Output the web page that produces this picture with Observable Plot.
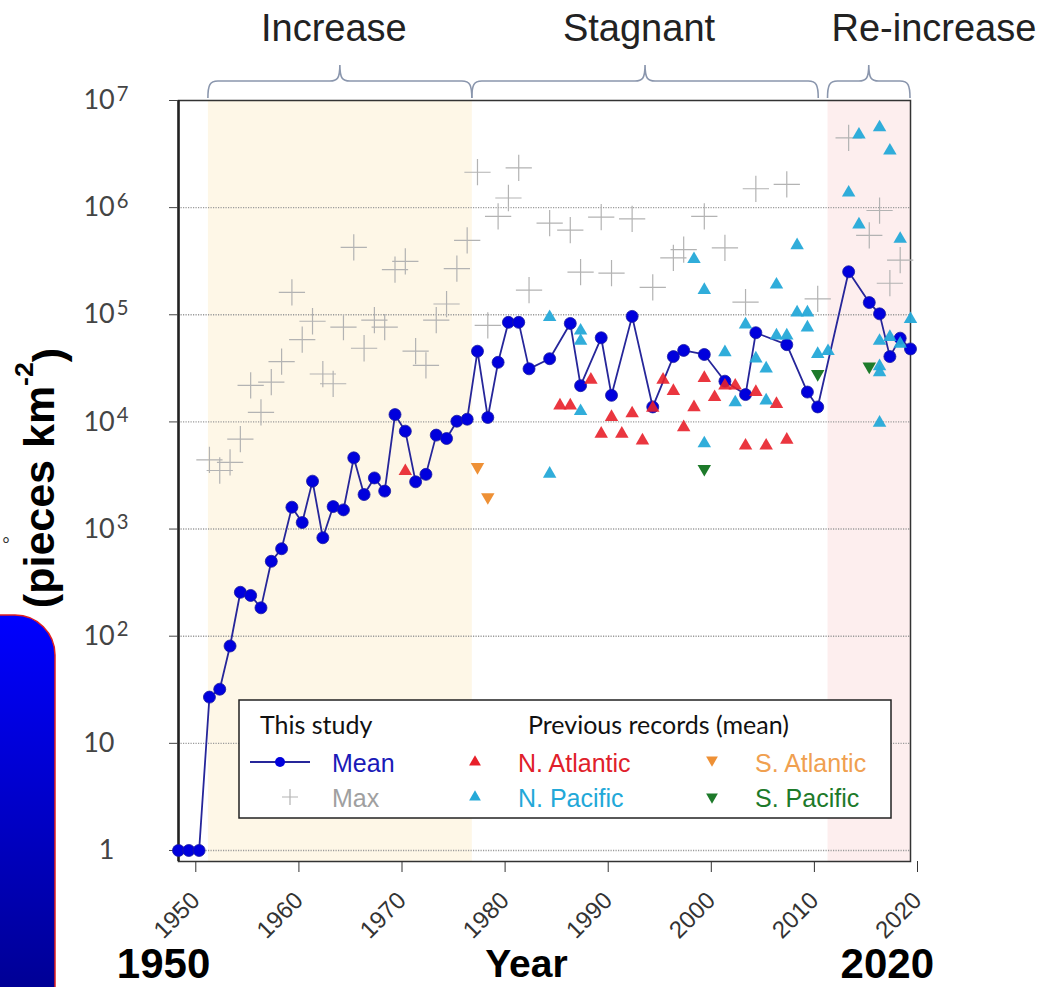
<!DOCTYPE html>
<html><head><meta charset="utf-8">
<script src="https://cdn.jsdelivr.net/npm/d3@7"></script>
<script src="https://cdn.jsdelivr.net/npm/@observablehq/plot@0.6"></script>
<style>
html,body{margin:0;padding:0;background:#fff;overflow:hidden}
#chart{position:relative;width:1054px;height:987px}
</style></head><body><div id="chart"></div>
<script>
// ---- Data ----
const meanYears  = [1949,1950,1951,1952,1953,1954,1955,1956,1957,1958,1959,1960,1961,1962,1963,1964,1965,1966,1967,1968,1969,1970,1971,1972,1973,1974,1975,1976,1977,1978,1979,1980,1981,1982,1983,1985,1987,1988,1990,1991,1993,1995,1997,1998,2000,2002,2004,2005,2008,2010,2011,2014,2016,2017,2018,2019,2020];
const meanValues = [1,1,1,27,32,81,257,240,184,500,655,1600,1150,2800,830,1620,1510,4620,2100,3000,2260,11700,8200,2760,3240,7530,7000,10150,10600,45700,11000,36000,85000,85000,31300,38900,83000,21800,61000,17700,96600,13800,40700,46500,42600,24000,18000,68000,52600,19000,13800,252000,130000,102000,40700,60500,48000];

const maxYears  = [1952,1953,1954,1955,1956,1957,1958,1959,1960,1961,1962,1963,1964,1965,1966,1967,1968,1969,1970,1971,1972,1973,1974,1975,1976,1977,1978,1979,1980,1981,1982,1983,1985,1987,1988,1990,1991,1993,1995,1997,1998,2000,2002,2004,2005,2008,2011,2014,2016,2017,2018,2019];
const maxValues = [4430,3520,4200,6900,21900,12300,23500,36600,162000,58500,87000,28000,22700,76700,426000,48700,89000,76700,264000,315000,45700,33700,89000,126000,270000,494000,2140000,79600,830000,1230000,2350000,170000,716000,617000,250000,816000,245000,786000,180000,340000,405000,830000,422000,131000,1500000,1650000,141000,4470000,550000,940000,197000,323000];

const nAtlanticYears  = [1971,1986,1987,1989,1990,1991,1992,1993,1994,1995,1996,1997,1998,1999,2000,2001,2002,2003,2004,2005,2006,2007,2008];
const nAtlanticValues = [3470,14200,14200,24700,7750,11100,7750,12000,6700,13500,24700,19400,8900,13700,25700,17000,21800,21800,6000,19000,6000,14700,6800];

const nPacificYears  = [1985,1985,1988,1988,1988,1999,2000,2000,2002,2003,2004,2005,2006,2006,2007,2007,2008,2009,2009,2010,2010,2011,2012,2014,2015,2015,2017,2017,2017,2017,2017,2018,2018,2019,2019,2020];
const nPacificValues = [95000,3280,71000,57000,12600,330000,170000,6300,44700,15200,81000,39000,31500,15800,191000,64000,64000,105000,445000,105000,76000,43000,45700,1380000,4800000,694000,5600000,57000,33000,29000,9800,3400000,62000,510000,53500,91000];

const sAtlanticYears  = [1978,1979];
const sAtlanticValues = [3800,1990];

const sPacificYears  = [2000,2011,2016];
const sPacificValues = [3650,28000,33000];

const periods     = ["Increase","Stagnant","Re-increase"];
const periodStart = [1951.9,1977.5,2012];
const periodEnd   = [1977.5,2011.1,2020];

const xTicks = [1950,1960,1970,1980,1990,2000,2010,2020];
const yTicks = [1,10,100,1000,10000,100000,1000000,10000000];
const gridValues = [1,10,100,1000,10000,100000,1000000];

const legendStudy    = ["Mean","Max"];
const legendPrevious = ["N. Atlantic","N. Pacific","S. Atlantic","S. Pacific"];

// ---- helpers ----
const pts = (ys, vs) => ys.map((y, i) => ({year: y, value: vs[i]}));
const mean = pts(meanYears, meanValues);
const maxP = pts(maxYears, maxValues);
const nAtl = pts(nAtlanticYears, nAtlanticValues);
const nPac = pts(nPacificYears, nPacificValues);
const sAtl = pts(sAtlanticYears, sAtlanticValues);
const sPac = pts(sPacificYears, sPacificValues);
const periodData = periods.map((p, i) => ({name: p, start: periodStart[i], end: periodEnd[i]}));

const downTriangle = {
  draw(ctx, size) {
    const y = Math.sqrt(size / (Math.sqrt(3) * 3));
    ctx.moveTo(0, 2 * y);
    ctx.lineTo(-Math.sqrt(3) * y, -y);
    ctx.lineTo(Math.sqrt(3) * y, -y);
    ctx.closePath();
  }
};

const C = {mean: "#0000dd", meanLine: "#26269a", max: "#b3b3b3", nAtl: "#e8202a", nPac: "#25a9d8", sAtl: "#ee9035", sPac: "#1d7a2a"};

const chart = Plot.plot({
  width: 1054, height: 987,
  marginTop: 100, marginBottom: 126, marginLeft: 178, marginRight: 144,
  style: {fontFamily: "'Liberation Sans', Arial, sans-serif", background: "transparent", overflow: "visible"},
  x: {domain: [1949, 2020]},
  y: {type: "log", domain: [0.789, 1e7]},
  marks: [
    Plot.rect([periodData[0]], {x1: "start", x2: "end", fill: "#fef7e7"}),
    Plot.rect([periodData[2]], {x1: "start", x2: "end", fill: "#fdeeee"}),
    Plot.ruleY(gridValues, {stroke: "#9a9a9a", strokeWidth: 1.4, strokeDasharray: "1.2,1.3"}),
    Plot.frame({stroke: "#333", strokeWidth: 1.5}),
    Plot.ruleX([1949], {stroke: "#222", strokeWidth: 2.5}),
    Plot.axisX({ticks: xTicks, tickFormat: d => String(d), tickSize: 11, tickRotate: -45, tickPadding: 24, dx: 7,
      fontSize: 24, color: "#333", label: null}),
    Plot.axisY({ticks: yTicks, tickFormat: d => String(Math.round(Math.log10(d))), tickSize: 9, tickPadding: 41,
      fontSize: 27, fontFamily: "Lato, 'Liberation Sans', sans-serif", color: "#444", label: null}),
    Plot.dot(maxP, {x: "year", y: "value", symbol: "plus", r: 8.5, stroke: C.max, strokeWidth: 1.2}),
    Plot.line(mean, {x: "year", y: "value", stroke: C.meanLine, strokeWidth: 1.8}),
    Plot.dot(mean, {x: "year", y: "value", r: 6, fill: C.mean, stroke: "#1a1aa0", strokeWidth: 0.8}),
    Plot.dot(nAtl, {x: "year", y: "value", symbol: "triangle", r: 5, fill: C.nAtl, fillOpacity: 0.9}),
    Plot.dot(nPac, {x: "year", y: "value", symbol: "triangle", r: 5, fill: C.nPac, fillOpacity: 0.95}),
    Plot.dot(sAtl, {x: "year", y: "value", symbol: downTriangle, r: 5, fill: C.sAtl}),
    Plot.dot(sPac, {x: "year", y: "value", symbol: downTriangle, r: 5, fill: C.sPac})
  ]
});
document.getElementById("chart").appendChild(chart);

const svg = d3.select(chart);
const xs = chart.scale("x");

// y tick labels with superscripts
svg.selectAll('g[aria-label="y-axis tick label"] text').each(function() {
  const e = +this.textContent;
  const t = d3.select(this);
  t.text(null);
  if (e >= 2) {
    t.append("tspan").text("10");
    t.append("tspan").attr("dx", 2).attr("dy", "-0.42em").attr("font-size", "0.75em").text(e);
  } else {
    t.text(e === 1 ? "10" : "1").attr("dx", -14);
  }
});

// background decoration at left (blue box)
const defs = svg.insert("defs", ":first-child");
const grad = defs.append("linearGradient").attr("id", "bluegrad").attr("x1", 0).attr("y1", 0).attr("x2", 0).attr("y2", 1);
grad.append("stop").attr("offset", "0%").attr("stop-color", "#0000ff");
grad.append("stop").attr("offset", "100%").attr("stop-color", "#000088");
svg.append("rect").attr("x", -40).attr("y", 615).attr("width", 95).attr("height", 420).attr("rx", 40)
  .attr("fill", "url(#bluegrad)").attr("stroke", "#e02020").attr("stroke-width", 1.5);
svg.append("text").attr("x", 2).attr("y", 552).attr("text-anchor", "start").attr("font-size", 20).attr("fill", "#333").text("°");

// y label
const yl = svg.append("text").attr("transform", "translate(39,478) rotate(-90)")
  .attr("text-anchor", "middle").attr("dominant-baseline", "central")
  .attr("font-family", "'Liberation Sans', Arial, sans-serif").attr("font-weight", "bold").attr("font-size", 43).attr("fill", "#000");
yl.append("tspan").text("(pieces km");
yl.append("tspan").attr("dy", "-0.55em").attr("font-size", "0.62em").text("-2");
yl.append("tspan").attr("dy", "0.55em").text(")");

// bold bottom labels
const bold = (x, y, s, fs) => svg.append("text").attr("x", x).attr("y", y).attr("text-anchor", "middle")
  .attr("font-family", "'Liberation Sans', Arial, sans-serif").attr("font-weight", "bold").attr("font-size", fs).attr("fill", "#000").text(s);
bold(xs.apply(1947.6), 978, "1950", 42);
bold(xs.apply(1982.8), 977, "Year", 39);
bold(xs.apply(2017.8), 978, "2020", 42);

// braces + period labels
function bracePath(x1, x2, yb, ym, yt) {
  const xm = (x1 + x2) / 2, r = 10;
  return `M${x1},${yb} C${x1},${ym + 4} ${x1 + 2},${ym} ${x1 + r},${ym} L${xm - r},${ym} C${xm - 3},${ym} ${xm},${ym - 2} ${xm},${yt} ` +
         `C${xm},${ym - 2} ${xm + 3},${ym} ${xm + r},${ym} L${x2 - r},${ym} C${x2 - 2},${ym} ${x2},${ym + 4} ${x2},${yb}`;
}
periodData.forEach((p, i) => {
  const x1 = xs.apply(p.start), x2 = xs.apply(p.end);
  svg.append("path").attr("d", bracePath(x1, x2, 98, 81, 65)).attr("fill", "none").attr("stroke", "#8a96ad").attr("stroke-width", 1.6);
  const last = i === periods.length - 1;
  svg.append("text").attr("x", last ? x1 + 4 : (x1 + x2) / 2 - 6).attr("y", 41)
    .attr("text-anchor", last ? "start" : "middle")
    .attr("font-family", "'Liberation Sans', Arial, sans-serif").attr("font-size", 38).attr("fill", "#222").text(p.name);
});

// legend
const lg = svg.append("g").attr("font-family", "'Liberation Sans', Arial, sans-serif").attr("text-anchor", "start");
lg.append("rect").attr("x", 239).attr("y", 700).attr("width", 652).attr("height", 118).attr("fill", "#fff").attr("stroke", "#222").attr("stroke-width", 1.5);
lg.append("text").attr("x", 260).attr("y", 734).attr("font-family", "Lato, sans-serif").attr("font-size", 25).attr("fill", "#111").text("This study");
lg.append("text").attr("x", 528).attr("y", 734).attr("font-family", "Lato, sans-serif").attr("font-size", 25).attr("fill", "#111").text("Previous records (mean)");
lg.append("line").attr("x1", 250).attr("x2", 310).attr("y1", 762).attr("y2", 762).attr("stroke", C.meanLine).attr("stroke-width", 1.8);
lg.append("circle").attr("cx", 280).attr("cy", 762).attr("r", 5).attr("fill", C.mean);
lg.append("path").attr("d", "M282,797H298M290,789V805").attr("stroke", C.max).attr("stroke-width", 1.2);
const ltxt = (x, y, s, c) => lg.append("text").attr("x", x).attr("y", y).attr("dominant-baseline", "central").attr("font-size", 25).attr("fill", c).text(s);
ltxt(332, 763, legendStudy[0], "#1a1ab8");
ltxt(332, 798, legendStudy[1], "#a0a0a0");
const up = d3.symbol(d3.symbolTriangle, 60), dn = d3.symbol(downTriangle, 60);
lg.append("path").attr("d", up()).attr("transform", "translate(475,762)").attr("fill", C.nAtl);
lg.append("path").attr("d", up()).attr("transform", "translate(475,797)").attr("fill", C.nPac);
lg.append("path").attr("d", dn()).attr("transform", "translate(712,760)").attr("fill", C.sAtl);
lg.append("path").attr("d", dn()).attr("transform", "translate(712,797)").attr("fill", C.sPac);
ltxt(518, 763, legendPrevious[0], "#e0202a");
ltxt(518, 798, legendPrevious[1], "#22a8d8");
ltxt(755, 763, legendPrevious[2], "#f0a050");
ltxt(755, 798, legendPrevious[3], "#1d7a2a");
</script>
</body></html>
